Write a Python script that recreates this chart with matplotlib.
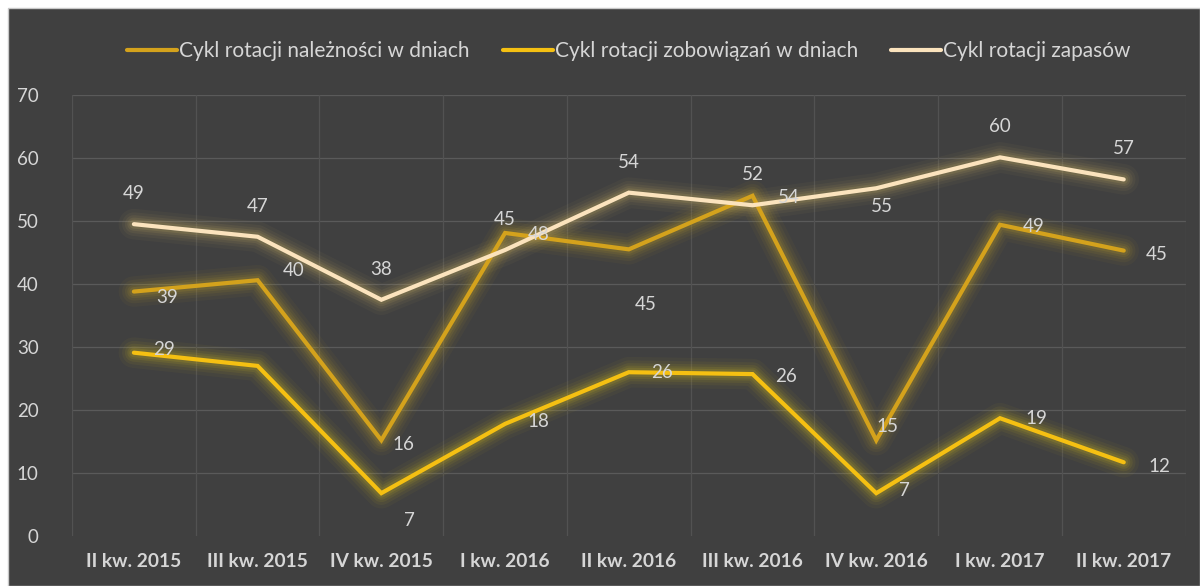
import matplotlib.pyplot as plt
from matplotlib.patches import Rectangle

# data
quarters = ["II kw. 2015", "III kw. 2015", "IV kw. 2015", "I kw. 2016", "II kw. 2016",
            "III kw. 2016", "IV kw. 2016", "I kw. 2017", "II kw. 2017"]
naleznosci = [38.8, 40.6, 15.2, 48.1, 45.5, 54.0, 15.2, 49.4, 45.3]
zobowiazania = [29.1, 27.0, 6.8, 17.8, 26.0, 25.7, 6.8, 18.7, 11.7]
zapasy = [49.5, 47.5, 37.5, 45.4, 54.5, 52.5, 55.2, 60.1, 56.6]

lab_naleznosci = ["39", "40", "16", "48", "45", "54", "15", "49", "45"]
lab_zobowiazania = ["29", "", "7", "18", "26", "26", "7", "19", "12"]
lab_zapasy = ["49", "47", "38", "45", "54", "52", "55", "60", "57"]

names = ["Cykl rotacji należności w dniach", "Cykl rotacji zobowiązań w dniach",
         "Cykl rotacji zapasów"]

plt.rcParams['font.family'] = ['Lato', 'DejaVu Sans']
bg = "#404040"
txt = "#d6d6d6"

fig = plt.figure(figsize=(12.0, 5.86), dpi=100)
fig.patch.set_facecolor("white")
fig.add_artist(Rectangle((8/1200, 0), 1 - 8/1200, 1 - 8/586, transform=fig.transFigure,
                         facecolor=bg, edgecolor="#c8c8c8", linewidth=1, zorder=0))
ax = fig.add_axes([0.06, 0.0853, 0.928, 0.7526])
ax.set_facecolor("none")

x = list(range(len(quarters)))
ax.set_xlim(-0.5, len(quarters) - 0.5)
ax.set_ylim(0, 70)

# grid
for y in range(10, 71, 10):
    ax.plot([-0.5, len(quarters) - 0.5], [y, y], color="#5a5a5a", linewidth=0.9, zorder=1)
for b in range(len(quarters) + 1):
    ax.plot([b - 0.5, b - 0.5], [0, 70], color="#525252", linewidth=0.9, zorder=1)

series = [
    (naleznosci, "#d4a21c", "#b89a2a", lab_naleznosci,
     [(24, -4), (26, 7), (16, -3), (24, -1), (12, -40), (26, -1), (8, 10), (24, -1), (24, -3)]),
    (zobowiazania, "#f5c012", "#c8b020", lab_zobowiazania,
     [(22, 2), (0, 0), (20, -20), (24, 2), (24, 0), (24, -2), (20, 2), (26, 0), (26, -3)]),
    (zapasy, "#fbe3bd", "#c0a860", lab_zapasy,
     [(0, 22), (0, 22), (0, 22), (0, 22), (0, 22), (0, 22), (4, -13), (0, 22), (0, 22)]),
]

for vals, clr, glow, labs, offs in series:
    # soft glow
    for w, a in [(22, 0.05), (17, 0.07), (13, 0.09), (9.5, 0.12), (6.5, 0.16)]:
        ax.plot(x, vals, color=glow, linewidth=w, alpha=a, solid_capstyle="round",
                solid_joinstyle="round", zorder=2)
for i, (vals, clr, glow, labs, offs) in enumerate(series):
    ax.plot(x, vals, color=clr, linewidth=3, solid_capstyle="round",
            solid_joinstyle="miter", zorder=3, label=names[i])
    for xi, v, s, o in zip(x, vals, labs, offs):
        if s:
            ax.annotate(s, (xi, v), xytext=o, textcoords="offset points", ha="center",
                        va="center", color=txt, fontsize=13.5, zorder=4)

ax.set_yticks(range(0, 71, 10))
ax.set_xticks(x)
ax.set_xticklabels(quarters, fontsize=13.8, fontweight="bold", color=txt)
ax.tick_params(axis="y", labelsize=13.5, labelcolor=txt, length=0, pad=24)
ax.tick_params(axis="x", length=0, pad=12)
for sp in ax.spines.values():
    sp.set_visible(False)

leg = ax.legend(loc="lower center", bbox_to_anchor=(0.5, 1.035), ncol=3, frameon=False,
                fontsize=15, handlelength=2.4, handletextpad=0.1, columnspacing=1.6)
for t in leg.get_texts():
    t.set_color(txt)

plt.savefig("out.png", dpi=100, facecolor=fig.get_facecolor())
